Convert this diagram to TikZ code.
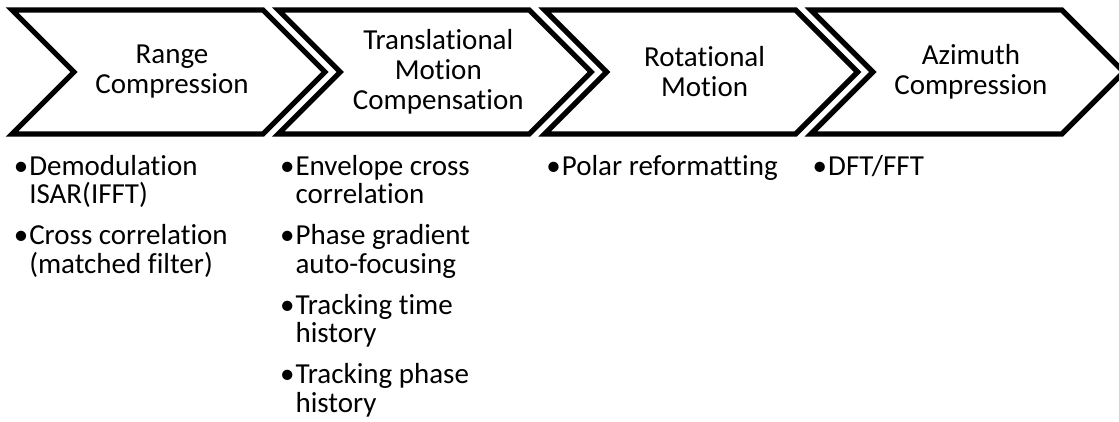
\documentclass[tikz,border=0pt]{standalone}
\usepackage{fontspec}
\setmainfont{Carlito}[Ligatures={NoCommon,NoContextual,NoRequired}]
\begin{document}
\begin{tikzpicture}[x=0.75pt,y=-0.75pt,
  chev/.style={draw=black, line width=3.9pt, fill=white, line join=miter},
  head/.style={align=center, inner sep=0pt, font=\fontsize{21.75pt}{22.5pt}\selectfont},
  btxt/.style={anchor=base west, inner sep=0pt, font=\fontsize{21.75pt}{21.4pt}\selectfont},
  bdot/.style={anchor=base, inner sep=0pt, font=\fontsize{21.75pt}{21.4pt}\selectfont}]
\useasboundingbox (0,0) rectangle (1119,421);
\clip (0,0) rectangle (1119,421);
% chevrons
\foreach \k in {0,1,2,3}{
  \pgfmathsetmacro\xo{12+266.3*\k}
  \draw[chev] (\xo,10) -- ++(251,0) -- ++(62,62) -- ++(-62,62) -- ++(-251,0) -- ++(62,-62) -- cycle;
}
% headings
\node[head] (h1) at (172,72) {Range\\Compression};
\node[head] (h2) at (438.3,72) {Translational\\Motion\\Compensation};
\node[head] (h3) at (704.6,72) {Rotational\\Motion};
\node[head] (h4) at (970.9,72) {Azimuth\\Compression};
% column 1
\node[bdot] (p1) at (21,175) {•};
\node[btxt] (t1a) at (29,175) {Demodulation};
\node[btxt] (t1b) at (29,203.5) {ISAR(IFFT)};
\node[bdot] (p2) at (21,244.5) {•};
\node[btxt] (t2a) at (29,244.5) {Cross correlation};
\node[btxt] (t2b) at (29,273) {(matched filter)};
% column 2
\node[bdot] (p3) at (287.3,175) {•};
\node[btxt] (t3a) at (295.3,175) {Envelope cross};
\node[btxt] (t3b) at (295.3,203.5) {correlation};
\node[bdot] (p4) at (287.3,244.5) {•};
\node[btxt] (t4a) at (295.3,244.5) {Phase gradient};
\node[btxt] (t4b) at (295.3,273) {auto-focusing};
\node[bdot] (p5) at (287.3,314) {•};
\node[btxt] (t5a) at (295.3,314) {Tracking time};
\node[btxt] (t5b) at (295.3,342.5) {history};
\node[bdot] (p6) at (287.3,383.5) {•};
\node[btxt] (t6a) at (295.3,383.5) {Tracking phase};
\node[btxt] (t6b) at (295.3,412) {history};
% column 3
\node[bdot] (p7) at (553.6,175) {•};
\node[btxt] (t7a) at (561.6,175) {Polar reformatting};
% column 4
\node[bdot] (p8) at (819.9,175) {•};
\node[btxt] (t8a) at (827.9,175) {DFT/FFT};
\end{tikzpicture}
\end{document}
